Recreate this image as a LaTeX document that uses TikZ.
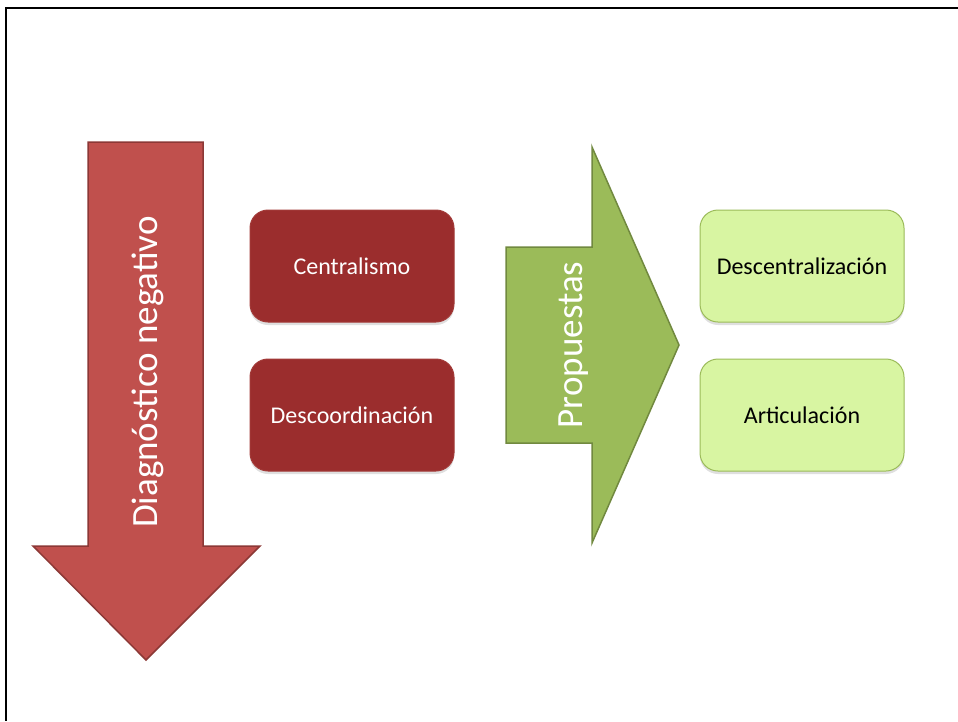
\documentclass[tikz,border=0pt]{standalone}
\usepackage{fontspec}
\setmainfont{Carlito}
\usetikzlibrary{shadows}
\definecolor{redfill}{HTML}{C0504D}
\definecolor{redline}{HTML}{8C3836}
\definecolor{darkred}{HTML}{9B2D2D}
\definecolor{darkredline}{HTML}{A23A38}
\definecolor{greenfill}{HTML}{9BBB59}
\definecolor{greenline}{HTML}{71893F}
\definecolor{lightgreen}{HTML}{D8F5A2}
\begin{document}
\begin{tikzpicture}[x=1pt,y=-1pt,
  redbox/.style={draw=darkredline, fill=darkred, line width=1pt, rounded corners=18pt,
    minimum width=204pt, minimum height=112pt, text=white, inner sep=0pt,
    font=\fontsize{24}{28}\selectfont,
    drop shadow={shadow xshift=0pt, shadow yshift=-3pt, opacity=0.25}},
  greenbox/.style={draw=greenfill, fill=lightgreen, line width=1pt, rounded corners=18pt,
    minimum width=204pt, minimum height=112pt, text=black, inner sep=0pt,
    font=\fontsize{24}{28}\selectfont,
    drop shadow={shadow xshift=0pt, shadow yshift=-3pt, opacity=0.25}},
  bigarrow/.style={line width=1.5pt, line join=miter},
  arrowlabel/.style={text=white, font=\fontsize{37}{44}\selectfont, inner sep=0pt, rotate=90}
]
\useasboundingbox (0,0) rectangle (958,721);
\fill[white] (0,0) rectangle (958,721);

% page frame (top and left edges)
\draw[line width=2pt] (958,8) -- (6,8) -- (6,721);

% downward arrow
\draw[bigarrow, draw=redline, fill=redfill]
  (88,142) -- (203,142) -- (203,546) -- (260,546) -- (146,660)
  -- (33,546) -- (88,546) -- cycle;
\node[arrowlabel] (diag) at (148,372) {Diagnóstico negativo};

% problem boxes
\node[redbox] (cent) at (352,266) {Centralismo};
\node[redbox] (desc) at (352,415) {Descoordinación};

% rightward arrow
\draw[bigarrow, draw=greenline, fill=greenfill]
  (506,247) -- (592,247) -- (592,147) -- (679,345) -- (592,543)
  -- (592,443) -- (506,443) -- cycle;
\node[arrowlabel] (prop) at (574,345) {Propuestas};

% proposal boxes
\node[greenbox] (decen) at (802,266) {Descentralización};
\node[greenbox] (artic) at (802,415) {Articulación};
\end{tikzpicture}
\end{document}
